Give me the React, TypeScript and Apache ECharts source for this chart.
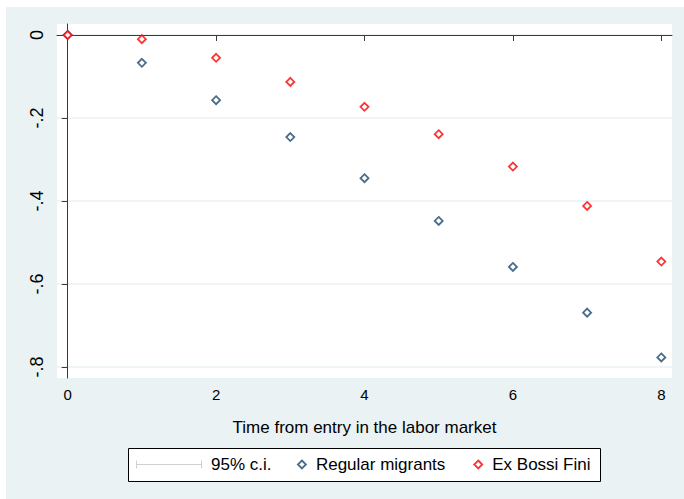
import React, { useEffect, useRef } from 'react';
import * as echarts from 'echarts';

const timeSteps = [0, 1, 2, 3, 4, 5, 6, 7, 8];
const regularMigrants = [0, -0.067, -0.157, -0.246, -0.345, -0.448, -0.559, -0.669, -0.777];
const exBossiFini = [0, -0.010, -0.055, -0.113, -0.173, -0.239, -0.317, -0.412, -0.546];
const xTicks = [0, 2, 4, 6, 8];
const yTicks = [0, -0.2, -0.4, -0.6, -0.8];
const ciName = '95% c.i.';
const regularName = 'Regular migrants';
const bossiName = 'Ex Bossi Fini';
const xTitle = 'Time from entry in the labor market';

const FONT = '"Liberation Sans", Arial, Helvetica, sans-serif';
const NAVY = '#1a476f';
const RED = '#ff0000';
const BG = '#eaf2f3';
const AXIS = '#3a3a3a';

export default function App() {
  const ref = useRef<HTMLDivElement>(null);
  useEffect(() => {
    if (!ref.current) return;
    const chart = echarts.init(ref.current, undefined, { renderer: 'svg' });
    const fmtY = (v: number) => {
      if (Math.abs(v) < 1e-9) return '0';
      return (Math.round(v * 10) / 10).toString().replace('0.', '.');
    };
    chart.setOption({
      animation: false,
      backgroundColor: '#ffffff',
      textStyle: { fontFamily: FONT },
      graphic: [
        { type: 'rect', left: 6, top: 7, shape: { width: 678, height: 492 }, style: { fill: BG }, z: -10 },
        { type: 'rect', left: 128, top: 448, shape: { width: 472, height: 33 }, style: { fill: '#ffffff', stroke: '#000000', lineWidth: 1 }, z: 1 },
      ],
      grid: {
        left: 57, top: 24, right: 12, bottom: 121,
        show: true, backgroundColor: '#ffffff', borderWidth: 0,
      },
      legend: [
        {
          left: 136, top: 456, padding: 0, z: 5,
          itemWidth: 66, itemHeight: 8,
          data: [{
            name: ciName,
            icon: 'path://M0,3.5h66v1h-66z M0,0h1v8h-1z M65,0h1v8h-1z',
            itemStyle: { color: '#c4c4c4' },
          }],
          textStyle: { fontFamily: FONT, fontSize: 17, color: '#000', padding: [0, 0, 0, 4] },
        },
        {
          left: 297, top: 456, padding: 0, z: 5,
          itemWidth: 8, itemHeight: 8, itemGap: 28,
          data: [
            { name: regularName, icon: 'diamond', itemStyle: { color: '#ffffff', borderColor: NAVY, borderWidth: 1.8 } },
            { name: bossiName, icon: 'diamond', itemStyle: { color: '#ffffff', borderColor: RED, borderWidth: 1.8 } },
          ],
          textStyle: { fontFamily: FONT, fontSize: 17, color: '#000', padding: [0, 0, 0, 5] },
        },
      ],
      xAxis: {
        type: 'value',
        min: -0.144, max: 8.144,
        name: xTitle, nameLocation: 'middle', nameGap: 41,
        nameTextStyle: { fontFamily: FONT, fontSize: 17, color: '#000' },
        axisLine: { show: true, lineStyle: { color: AXIS, width: 1 } },
        axisTick: { show: true, length: 6, lineStyle: { color: AXIS }, customValues: xTicks },
        axisLabel: { customValues: xTicks, margin: 9, fontSize: 15, color: '#000', fontFamily: FONT },
        splitLine: { show: false },
      },
      yAxis: {
        type: 'value',
        min: -0.8265, max: 0.0265,
        axisLine: { show: true, lineStyle: { color: AXIS, width: 1 } },
        axisTick: { show: true, length: 6, lineStyle: { color: AXIS }, customValues: yTicks },
        axisLabel: { customValues: yTicks, rotate: 90, margin: 11, fontSize: 18, color: '#000', fontFamily: FONT, formatter: fmtY },
        splitLine: { show: true, lineStyle: { color: BG, width: 1.5 } },
      },
      series: [
        { name: ciName, type: 'scatter', data: [], itemStyle: { color: '#c4c4c4' } },
        {
          name: regularName, type: 'scatter', symbol: 'diamond', symbolSize: 8,
          itemStyle: { color: '#ffffff', borderColor: NAVY, borderWidth: 1.8 },
          data: timeSteps.map((t, i) => [t, regularMigrants[i]]),
        },
        {
          name: bossiName, type: 'scatter', symbol: 'diamond', symbolSize: 8,
          itemStyle: { color: '#ffffff', borderColor: RED, borderWidth: 1.8 },
          data: timeSteps.map((t, i) => [t, exBossiFini[i]]),
        },
      ],
    });
    return () => chart.dispose();
  }, []);
  return <div ref={ref} style={{ position: 'absolute', left: 0, top: 0, width: 684, height: 499 }} />;
}
